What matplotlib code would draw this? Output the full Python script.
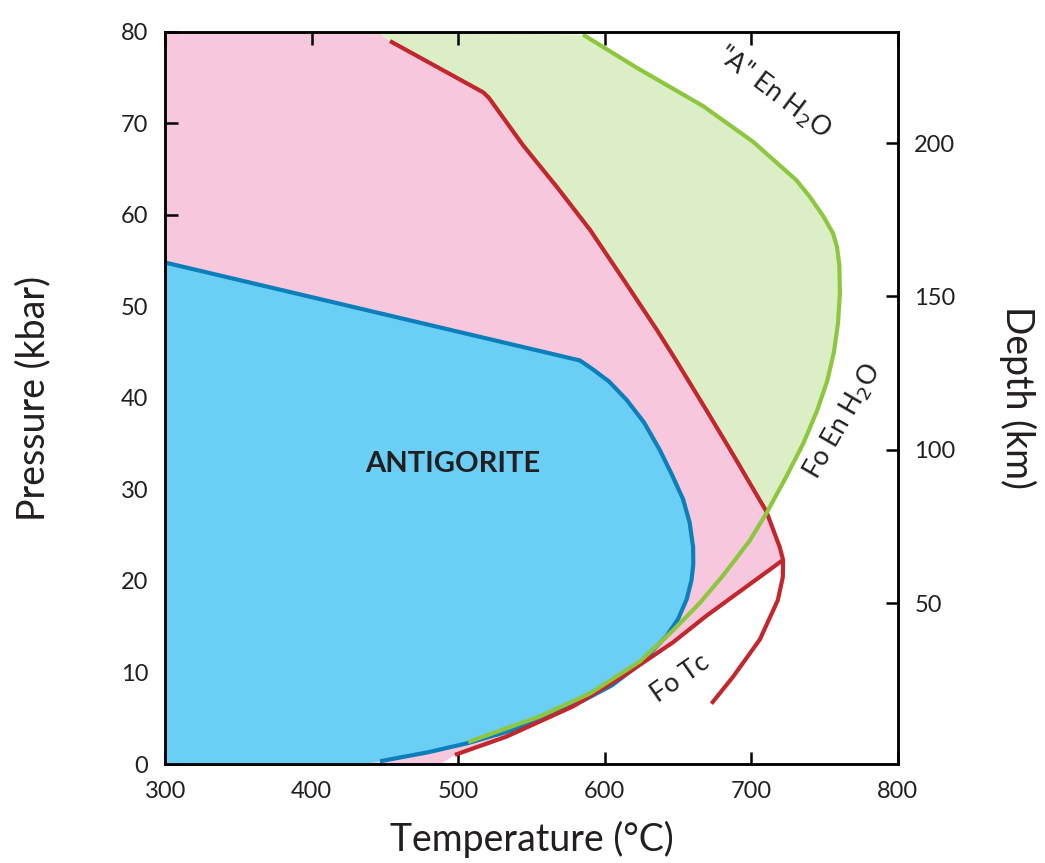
import numpy as np
import matplotlib
matplotlib.use("Agg")
import matplotlib.pyplot as plt

plt.rcParams["font.family"] = ["Lato", "DejaVu Sans"]

COULEUR_TEXTE = "#231F20"

# courbe de l'antigorite (bleu)
blue_T = [300, 583.1, 592.2, 603, 615, 627, 637.7, 646, 653.6, 658, 660.4, 660.5,
          659.3, 656, 650, 642.3, 624, 605, 585, 563, 535, 507, 480, 446.7]
blue_P = [54.8, 44.1, 43.1, 41.8, 39.8, 37.3, 34.3, 31.6, 28.9, 26.4, 23.7, 21.8,
          20.1, 18.0, 15.8, 14.0, 10.9, 8.6, 6.9, 5.3, 3.6, 2.3, 1.3, 0.3]
blue_fill_T = [437, 300]
blue_fill_P = [0, 0]

# reaction rouge (crochet + branche haute)
red_T = [672.9, 687.5, 705.9, 718.2, 721.6, 721.8, 719.5, 710.4, 687.7, 669.7, 648,
         635.4, 612.6, 589.9, 567.2, 544.4, 530, 521, 517.1, 453.5]
red_P = [6.6, 9.5, 13.6, 17.9, 20.4, 22.3, 23.7, 27.6, 33.8, 38.6, 44.3,
         47.5, 53.0, 58.4, 63.1, 67.6, 70.8, 72.8, 73.4, 79.0]
PIC = 5
CROISEMENT_ROUGE = 7

# reaction rouge basse (Fo Tc)
red2_T = [497.8, 533.1, 578.5, 612.6, 646.7, 669.5, 721.8]
red2_P = [1.0, 3.0, 6.3, 9.6, 13.3, 16.2, 22.3]

# reaction verte (Fo En H2O / "A" En H2O)
green_T = [585.3, 621.8, 667.2, 701.3, 730.9, 740, 749.1, 755.9, 758.6, 760.2, 760.6,
           759.3, 756.5, 752, 745, 735.5, 724, 710.4, 699, 680.8, 665, 646.7, 624,
           589.9, 555.8, 506.9]
green_P = [79.7, 76.1, 71.9, 68.0, 63.8, 62.0, 59.9, 58.0, 56.5, 54.5, 51.5,
           48.2, 45.0, 41.9, 38.6, 35.0, 31.4, 27.4, 24.4, 20.6, 17.6, 14.6, 11.2,
           7.7, 5.2, 2.4]
CROISEMENT_VERT = 17

# coins des zones
pink_top_T = [300, 445]
pink_top_P = [80, 80]
pink_bottom_T = [488, 300]
pink_bottom_P = [0, 0]

depth_ticks = [50, 100, 150, 200]


def profondeur_vers_pression(d):
    return 0.84 + 0.335 * np.asarray(d)


fig = plt.figure(figsize=(10.45, 8.63), dpi=100)
ax = fig.add_axes([0.158, 0.1147, 0.701, 0.8483])

# zone rose
rose_T = pink_top_T + red_T[PIC:][::-1] + red2_T[::-1] + pink_bottom_T
rose_P = pink_top_P + red_P[PIC:][::-1] + red2_P[::-1] + pink_bottom_P
ax.fill(rose_T, rose_P, color="#F7C8DD", lw=0, zorder=1)

# zone verte
vert_T = [pink_top_T[1]] + green_T[:CROISEMENT_VERT + 1] + red_T[CROISEMENT_ROUGE:]
vert_P = [pink_top_P[1]] + green_P[:CROISEMENT_VERT + 1] + red_P[CROISEMENT_ROUGE:]
ax.fill(vert_T, vert_P, color="#DCEEC6", lw=0, zorder=1)

# zone bleue
ax.fill(blue_T + blue_fill_T, blue_P + blue_fill_P, color="#6BCEF5", lw=0, zorder=2)

style = dict(lw=3, solid_capstyle="butt", solid_joinstyle="round")
ax.plot(blue_T, blue_P, color="#0A7FBA", zorder=3, **style)
ax.plot(red_T, red_P, color="#C1272D", zorder=4, **style)
ax.plot(red2_T, red2_P, color="#C1272D", zorder=4, **style)
ax.plot(green_T, green_P, color="#8DC63F", zorder=5, **style)

ax.set_xlim(300, 800)
ax.set_ylim(0, 80)
ax.set_xticks(range(300, 801, 100))
ax.set_yticks(range(0, 81, 10))

for s in ax.spines.values():
    s.set_linewidth(1.8)
    s.set_zorder(10)

ax.tick_params(axis="x", direction="in", length=9, width=1.8, top=True,
               labelsize=17, pad=12, colors="black", labelcolor=COULEUR_TEXTE)
ax.tick_params(axis="y", direction="in", length=9, width=1.8, right=False,
               labelsize=17, pad=12, colors="black", labelcolor=COULEUR_TEXTE)

ax.set_xlabel("Temperature (°C)", fontsize=27, color=COULEUR_TEXTE, labelpad=14)
ax.set_ylabel("Pressure (kbar)", fontsize=27, color=COULEUR_TEXTE, labelpad=50)

ax2 = ax.twinx()
ax2.set_ylim(0, 80)
ax2.set_yticks(profondeur_vers_pression(depth_ticks))
ax2.set_yticklabels([str(d) for d in depth_ticks])
ax2.tick_params(axis="y", direction="in", length=9, width=1.8, labelsize=17,
                pad=12, labelcolor=COULEUR_TEXTE)
for s in ax2.spines.values():
    s.set_linewidth(1.8)
ax2.set_ylabel("Depth (km)", fontsize=27, color=COULEUR_TEXTE, rotation=-90, labelpad=58)

ax.text(496, 32.8, "ANTIGORITE", fontsize=21, fontweight="bold", color=COULEUR_TEXTE,
        ha="center", va="center", zorder=6)
ax.text(715.4, 73.4, '"A" En H$_2$O', fontsize=19, color=COULEUR_TEXTE, rotation=-37,
        ha="center", va="center", rotation_mode="anchor", zorder=6)
ax.text(762.5, 37.4, "Fo En H$_2$O", fontsize=19, color=COULEUR_TEXTE, rotation=60,
        ha="center", va="center", rotation_mode="anchor", zorder=6)
ax.text(651.3, 9.4, "Fo Tc", fontsize=19, color=COULEUR_TEXTE, rotation=35,
        ha="center", va="center", rotation_mode="anchor", zorder=6)

fig.savefig("out.png", dpi=100)
plt.close(fig)
